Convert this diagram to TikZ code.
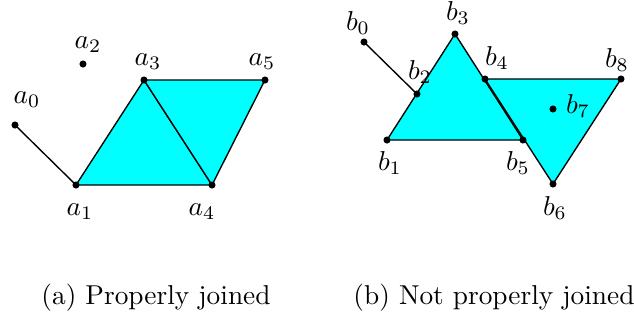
\documentclass[tikz,border=0pt]{standalone}
\definecolor{cyanfill}{RGB}{0,255,255}
\begin{document}
\begin{tikzpicture}[x=0.366pt,y=-0.366pt,
  dot/.style={circle,fill=black,inner sep=0pt,minimum size=2.6pt},
  lbl/.style={inner sep=0pt},
  tri/.style={fill=cyanfill,draw=black,line width=0.5pt,line join=round},
  seg/.style={draw=black,line width=0.5pt}]
\useasboundingbox (0,0) rectangle (634,321);
% left figure
\coordinate (a0) at (15,125);
\coordinate (a1) at (76,185);
\coordinate (a2) at (83,64);
\coordinate (a3) at (144,80);
\coordinate (a4) at (212,185);
\coordinate (a5) at (265,80);
\path[tri] (a1) -- (a3) -- (a4) -- cycle;
\path[tri] (a3) -- (a5) -- (a4) -- cycle;
\path[seg] (a0) -- (a1);
\foreach \p in {a0,a1,a2,a3,a4,a5} \node[dot] (d\p) at (\p) {};
\node[lbl] (la0) at (27,100) {$a_0$};
\node[lbl] (la1) at (80,212) {$a_1$};
\node[lbl] (la2) at (88,45) {$a_2$};
\node[lbl] (la3) at (148,62) {$a_3$};
\node[lbl] (la4) at (202,212) {$a_4$};
\node[lbl] (la5) at (262,62) {$a_5$};
% right figure
\coordinate (b0) at (364,42);
\coordinate (b1) at (387,140);
\coordinate (b2) at (417,94);
\coordinate (b3) at (455,34);
\coordinate (b4) at (485,79);
\coordinate (b5) at (523,140);
\coordinate (b6) at (553,184);
\coordinate (b7) at (553,109);
\coordinate (b8) at (621,79);
\path[tri] (b1) -- (b3) -- (b5) -- cycle;
\path[tri] (b4) -- (b8) -- (b6) -- cycle;
\path[seg] (b0) -- (b2);
\foreach \p in {b0,b1,b2,b3,b4,b5,b6,b7,b8} \node[dot] (d\p) at (\p) {};
\node[lbl] (lb0) at (358,23) {$b_0$};
\node[lbl] (lb1) at (390,163) {$b_1$};
\node[lbl] (lb2) at (420,72) {$b_2$};
\node[lbl] (lb3) at (458,13) {$b_3$};
\node[lbl] (lb4) at (497,58) {$b_4$};
\node[lbl] (lb5) at (518,163) {$b_5$};
\node[lbl] (lb6) at (555,208) {$b_6$};
\node[lbl] (lb7) at (578,106) {$b_7$};
\node[lbl] (lb8) at (617,60) {$b_8$};
% captions
\node[lbl] (capa) at (156,298) {(a) Properly joined};
\node[lbl] (capb) at (494,298) {(b) Not properly joined};
\end{tikzpicture}
\end{document}
